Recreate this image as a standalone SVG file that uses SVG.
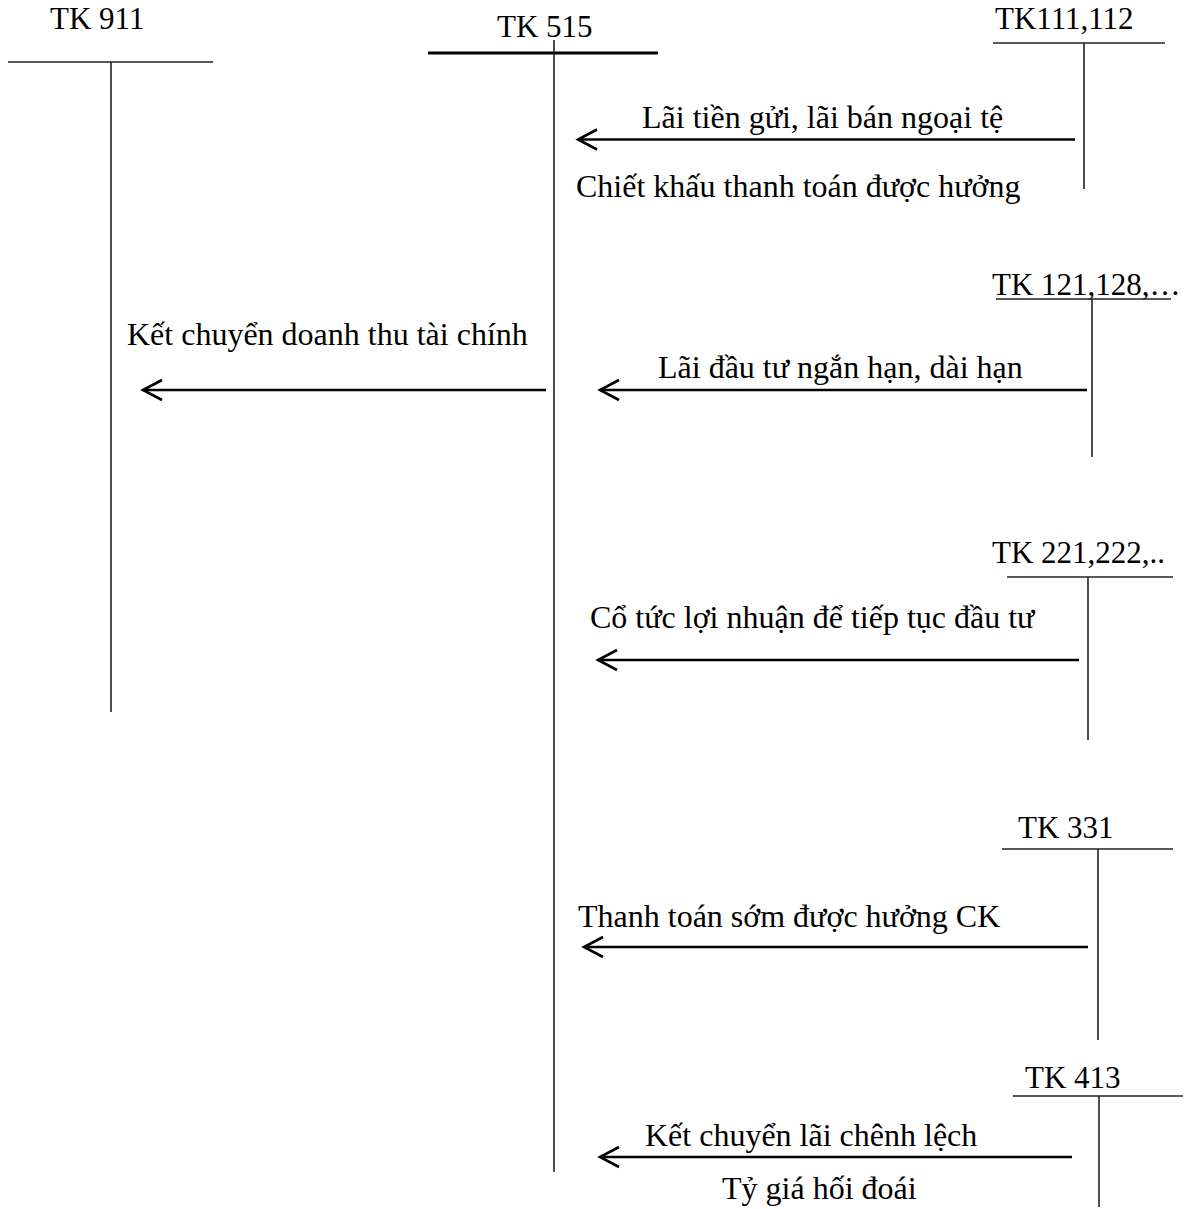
<svg xmlns="http://www.w3.org/2000/svg" width="1192" height="1209" viewBox="0 0 1192 1209">
  <style>
    text { font-family: "Liberation Serif", "Times New Roman", serif; fill: #000; }
    .acct { font-size: 31px; }
    .lbl { font-size: 32px; }
    .t { stroke: #222; stroke-width: 1.6; fill: none; }
    .flow { stroke: #000; stroke-width: 2.6; fill: none; }
  </style>
  <defs>
    <marker id="open-arrow" markerUnits="userSpaceOnUse" viewBox="-22 -12 24 24" refX="0" refY="0" markerWidth="24" markerHeight="24" orient="auto" overflow="visible">
      <path d="M-19,-10 L0,0 L-19,10" fill="none" stroke="#000" stroke-width="2.6" stroke-linejoin="miter"/>
    </marker>
  </defs>
  <rect width="1192" height="1209" fill="#fff"/>

  <!-- T-accounts -->
  <g id="tk911">
    <text class="acct" x="50" y="29">TK 911</text>
    <line class="t" x1="8" y1="62" x2="213" y2="62"/>
    <line class="t" x1="111" y1="62" x2="111" y2="712"/>
  </g>
  <g id="tk515">
    <text class="acct" x="497" y="37">TK 515</text>
    <line class="t" x1="428" y1="53" x2="658" y2="53" style="stroke-width:3;stroke:#000"/>
    <line class="t" x1="554" y1="40" x2="554" y2="1172"/>
  </g>
  <g id="tk111">
    <text class="acct" x="995" y="29">TK111,112</text>
    <line class="t" x1="993" y1="43" x2="1165" y2="43"/>
    <line class="t" x1="1084" y1="43" x2="1084" y2="189"/>
  </g>
  <g id="tk121">
    <text class="acct" x="992" y="295">TK 121,128,…</text>
    <line class="t" x1="996" y1="299" x2="1171" y2="299"/>
    <line class="t" x1="1092" y1="299" x2="1092" y2="457"/>
  </g>
  <g id="tk221">
    <text class="acct" x="992" y="563">TK 221,222,..</text>
    <line class="t" x1="1007" y1="577" x2="1173" y2="577"/>
    <line class="t" x1="1088" y1="577" x2="1088" y2="740"/>
  </g>
  <g id="tk331">
    <text class="acct" x="1018" y="838">TK 331</text>
    <line class="t" x1="1002" y1="849" x2="1173" y2="849"/>
    <line class="t" x1="1098" y1="849" x2="1098" y2="1040"/>
  </g>
  <g id="tk413">
    <text class="acct" x="1025" y="1088">TK 413</text>
    <line class="t" x1="1013" y1="1096" x2="1183" y2="1096"/>
    <line class="t" x1="1099" y1="1096" x2="1099" y2="1207"/>
  </g>

  <!-- entries between accounts -->
  <g id="connectors">
    <line class="flow" x1="1075" y1="139.5" x2="578" y2="139.5" marker-end="url(#open-arrow)"/>
    <line class="flow" x1="1087" y1="390" x2="600" y2="390" marker-end="url(#open-arrow)"/>
    <line class="flow" x1="546" y1="390" x2="143" y2="390" marker-end="url(#open-arrow)"/>
    <line class="flow" x1="1079" y1="660" x2="598" y2="660" marker-end="url(#open-arrow)"/>
    <line class="flow" x1="1088" y1="947" x2="584" y2="947" marker-end="url(#open-arrow)"/>
    <line class="flow" x1="1072" y1="1157" x2="600" y2="1157" marker-end="url(#open-arrow)"/>
  </g>

  <g id="labels">
    <text class="lbl" x="642" y="128">Lãi tiền gửi, lãi bán ngoại tệ</text>
    <text class="lbl" x="576" y="197">Chiết khấu thanh toán được hưởng</text>
    <text class="lbl" x="127" y="345">Kết chuyển doanh thu tài chính</text>
    <text class="lbl" x="658" y="378">Lãi đầu tư ngắn hạn, dài hạn</text>
    <text class="lbl" x="590" y="628">Cổ tức lợi nhuận để tiếp tục đầu tư</text>
    <text class="lbl" x="578" y="927">Thanh toán sớm được hưởng CK</text>
    <text class="lbl" x="645" y="1146">Kết chuyển lãi chênh lệch</text>
    <text class="lbl" x="722" y="1199">Tỷ giá hối đoái</text>
  </g>
</svg>
